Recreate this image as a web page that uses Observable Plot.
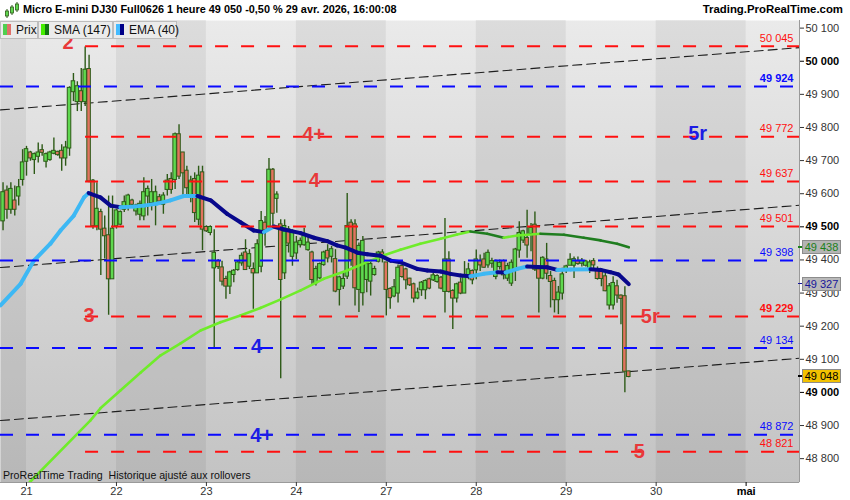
<!DOCTYPE html>
<html lang="fr">
<head>
<meta charset="utf-8">
<script src="https://cdn.jsdelivr.net/npm/d3@7"></script>
<script src="https://cdn.jsdelivr.net/npm/@observablehq/plot@0.6"></script>
<style>
  html,body{margin:0;padding:0;background:#fff;}
  #root{position:relative;width:850px;height:500px;overflow:hidden;font-family:"Liberation Sans",Arial,sans-serif;}
  #hdr{position:absolute;left:0;top:0;width:850px;height:20px;background:#fff;}
  #title{position:absolute;left:23px;top:3px;font-weight:bold;font-size:10.9px;color:#000;white-space:nowrap;}
  #site{position:absolute;right:7px;top:3px;font-weight:bold;font-size:11.4px;color:#000;white-space:nowrap;}
  #chart{position:absolute;left:0;top:20px;}
  .leg{position:absolute;top:21px;height:16px;background:#ebebeb;border:1px solid #bdbdbd;font-size:12px;color:#111;line-height:16px;white-space:nowrap;}
  .leg .ic{position:absolute;left:2px;top:2px;width:4px;height:11px;}
  .leg .ic2{position:absolute;left:6px;top:2px;width:4px;height:11px;}
  .leg .tx{position:absolute;left:15px;top:0;}
  #foot{position:absolute;left:3px;top:469px;font-size:10.6px;color:#111;white-space:pre;}
  .vbox{position:absolute;left:802px;width:37px;height:12px;border:1px solid #8c8c8c;font-size:11px;line-height:12px;text-align:center;}
  .vtick{position:absolute;left:798px;width:4px;height:1.5px;}
</style>
</head>
<body>
<svg width="0" height="0" style="position:absolute">
  <defs>
    <linearGradient id="bgGrad" x1="0" y1="0" x2="0" y2="1">
      <stop offset="0" stop-color="#eaeaea"/>
      <stop offset="1" stop-color="#c3c3c3"/>
    </linearGradient>
  </defs>
</svg>
<div id="root">
  <div id="hdr">
    <svg width="18" height="18" style="position:absolute;left:3px;top:1px">
      <line x1="4" y1="8" x2="4" y2="17" stroke="#2d5a17"/><rect x="2.5" y="10" width="3" height="5" fill="#5fd84f" stroke="#2d5a17" stroke-width="0.8"/>
      <line x1="9" y1="4" x2="9" y2="14" stroke="#2d5a17"/><rect x="7.5" y="6" width="3" height="6" fill="#5fd84f" stroke="#2d5a17" stroke-width="0.8"/>
      <line x1="14" y1="1" x2="14" y2="11" stroke="#2d5a17"/><rect x="12.5" y="3" width="3" height="6" fill="#5fd84f" stroke="#2d5a17" stroke-width="0.8"/>
    </svg>
    <div id="title">Micro E-mini DJ30 Full0626 1 heure 49 050 -0,50 % 29 avr. 2026, 16:00:08</div>
    <div id="site">Trading.ProRealTime.com</div>
  </div>
  <div id="chart"></div>
  <div class="leg" style="left:0;width:36px"><span class="ic" style="background:#4fcf4f"></span><span class="ic2" style="background:#e0706a"></span><span class="tx">Prix</span></div>
  <div class="leg" style="left:38px;width:73px"><span class="ic" style="background:#44ee00"></span><span class="ic2" style="background:#117711"></span><span class="tx">SMA (147)</span></div>
  <div class="leg" style="left:113px;width:62px"><span class="ic" style="background:#44bbff"></span><span class="ic2" style="background:#000088"></span><span class="tx">EMA (40)</span></div>
  <div id="foot">ProRealTime Trading  Historique ajusté aux rollovers</div>
</div>
<script>
// ---------- data ----------
const dayTicks  = [0, 23, 46, 69, 92, 115, 138, 161, 184];
const dayLabels = ["21", "22", "23", "24", "27", "28", "29", "30", "mai"];
const firstBar = -6; // hourly bars, index 0 = 21 avr. 00:00

const opens = [
 49518,49608,49553,49578,49593,49643,49698,49723,49703,49713,
 49730,49698,49703,49722,49725,49728,49708,49738,49908,49878,
 49908,49878,49975,49638,49503,49543,49493,49473,49343,49503,
 49508,49553,49563,49578,49548,49538,49533,49593,49573,49568,
 49588,49568,49613,49643,49643,49778,49723,49668,49593,49643,
 49523,49663,49498,49483,49376,49395,49376,49341,49321,49356,
 49371,49391,49421,49381,49371,49361,49381,49511,49501,49671,
 49586,49506,49361,49491,49411,49421,49446,49446,49431,49421,
 49331,49346,49386,49426,49411,49401,49311,49321,49351,49511,
 49506,49311,49301,49341,49336,49356,49396,49421,49391,49311,
 49291,49300,49380,49370,49342,49325,49285,49310,49310,49340,
 49340,49335,49345,49305,49400,49305,49285,49330,49300,49350,
 49365,49370,49395,49400,49385,49390,49350,49380,49395,49345,
 49330,49370,49430,49460,49465,49480,49505,49370,49345,49400,
 49350,49335,49280,49300,49369,49384,49384,49395,49390,49384,
 49374,49395,49369,49365,49349,49264,49264,49319,49291,49289,
 49062];
const highs = [
 49633,49623,49633,49623,49643,49733,49743,49728,49723,49753,
 49748,49723,49728,49768,49728,49748,49758,49923,49963,49938,
 49978,50043,50018,49643,49633,49553,49533,49593,49593,49553,
 49548,49593,49598,49583,49568,49578,49648,49623,49643,49623,
 49598,49603,49658,49663,49783,49808,49723,49683,49653,49663,
 49683,49683,49503,49503,49491,49401,49396,49351,49366,49371,
 49396,49421,49461,49431,49391,49461,49546,49531,49706,49676,
 49606,49521,49521,49501,49491,49471,49466,49496,49476,49426,
 49381,49391,49426,49446,49441,49431,49351,49361,49601,49521,
 49521,49451,49471,49391,49396,49381,49426,49431,49391,49316,
 49341,49385,49385,49375,49345,49330,49315,49335,49340,49345,
 49360,49355,49350,49525,49425,49310,49330,49345,49395,49390,
 49370,49430,49415,49420,49430,49405,49400,49400,49400,49390,
 49400,49435,49515,49490,49550,49510,49545,49380,49410,49450,
 49365,49345,49320,49375,49384,49419,49409,49409,49404,49399,
 49399,49404,49379,49374,49359,49329,49349,49339,49294,49319,
 49064];
const lows = [
 49488,49523,49538,49533,49563,49623,49653,49698,49658,49693,
 49713,49678,49698,49718,49713,49668,49683,49713,49878,49848,
 49848,49863,49633,49493,49488,49353,49403,49233,49343,49493,
 49503,49543,49548,49558,49533,49518,49518,49533,49548,49503,
 49568,49538,49593,49598,49613,49643,49593,49593,49573,49513,
 49503,49428,49483,49473,49131,49371,49321,49281,49296,49331,
 49366,49381,49371,49371,49251,49361,49361,49441,49501,49501,
 49541,49041,49341,49421,49381,49401,49436,49441,49426,49326,
 49321,49341,49381,49391,49391,49301,49261,49311,49341,49381,
 49261,49241,49261,49301,49291,49351,49391,49391,49231,49251,
 49286,49270,49345,49310,49320,49270,49280,49290,49280,49310,
 49335,49330,49310,49240,49300,49190,49270,49295,49300,49340,
 49325,49340,49365,49375,49375,49375,49340,49370,49340,49335,
 49320,49335,49405,49450,49405,49425,49365,49240,49340,49340,
 49255,49240,49235,49279,49359,49384,49344,49384,49379,49379,
 49359,49374,49339,49319,49304,49249,49249,49269,49204,48999,
 49044];
const closes = [
 49603,49553,49613,49553,49618,49693,49733,49708,49718,49723,
 49725,49718,49723,49728,49718,49708,49738,49918,49938,49923,
 49878,49973,49638,49503,49553,49493,49473,49343,49493,49548,
 49543,49573,49593,49568,49563,49568,49603,49613,49603,49603,
 49578,49593,49638,49613,49778,49653,49663,49618,49638,49543,
 49653,49493,49488,49498,49420,49380,49336,49321,49361,49366,
 49391,49411,49371,49416,49361,49446,49516,49491,49671,49541,
 49596,49341,49501,49451,49486,49451,49456,49471,49451,49341,
 49371,49386,49421,49406,49431,49306,49346,49341,49501,49401,
 49316,49441,49456,49386,49386,49371,49421,49411,49311,49286,
 49316,49375,49350,49340,49325,49285,49300,49330,49335,49315,
 49352,49350,49315,49400,49305,49285,49325,49300,49350,49370,
 49340,49400,49385,49378,49420,49395,49395,49390,49355,49380,
 49390,49430,49480,49485,49445,49495,49372,49345,49405,49360,
 49335,49280,49300,49355,49379,49399,49401,49389,49396,49394,
 49391,49385,49344,49344,49307,49319,49329,49294,49284,49064,
 49048];

// SMA (147) (bar index, price)
const smaBars = [-2, 1.0, 16.3, 18.9, 24.0, 29.2, 34.3, 39.4, 44.5, 49.6, 54.7, 59.8, 65.0, 70.1, 76.0, 82.0, 88.0, 91.4, 95.6, 100.7, 105.9, 110.1, 113.5, 117.8, 122.0, 125.5, 131.4, 137.4, 142.5, 146.8, 151.0, 154];
const smaValues = [48695, 48731, 48915, 48952, 49006, 49060, 49112, 49148, 49187, 49212, 49232, 49255, 49281, 49308, 49343, 49368, 49398, 49414, 49431, 49449, 49464, 49477, 49486, 49479, 49467, 49474, 49479, 49476, 49467, 49459, 49449, 49438];

// EMA (40) (bar index, price)
const emaBars = [-6.65, -1.5, 1.9, 6.1, 8.7, 12.1, 14.7, 15.9, 18.9, 21.5, 24.0, 27.4, 30.0, 33.4, 36.8, 40.2, 43.7, 47.1, 51.3, 54.7, 58.1, 60.7, 63.2, 65.8, 70.1, 73.5, 76.9, 79.4, 81.6, 84.6, 87.1, 90.5, 93.1, 95.6, 99.9, 102.5, 105.9, 108.4, 111.0, 113.5, 116.9, 120.4, 122.5, 125.5, 128.0, 130.6, 133.1, 135.7, 139.1, 144.2, 146.8, 149.3, 151.4, 154];
const emaValues = [49263, 49328, 49398, 49449, 49489, 49534, 49589, 49602, 49589, 49564, 49559, 49561, 49564, 49570, 49580, 49593, 49593, 49580, 49539, 49514, 49489, 49484, 49501, 49492, 49481, 49467, 49457, 49444, 49437, 49422, 49417, 49413, 49398, 49393, 49373, 49368, 49365, 49358, 49353, 49351, 49358, 49363, 49362, 49373, 49380, 49379, 49378, 49370, 49371, 49372, 49370, 49363, 49356, 49327];

// horizontal levels
const redLevels  = [50045, 49772, 49637, 49501, 49229, 48821];
const redLevelsStartBar = 15.1;
const blueLevels = [49924, 49398, 49134, 48872];
const boldLevels = [49924, 49229];

// channel lines (bar index, price)
const trendBars   = [-6.65, 197.65];
const trendUpper  = [49853, 50041];
const trendMiddle = [49377, 49565];
const trendLower  = [48915, 49103];

// wave annotations
const waveText   = ["2", "4+", "4", "3", "5r", "5", "5r", "4", "4+"];
const waveBars   = [10.6, 73.4, 73.6, 16.0, 159.5, 156.7, 171.6, 58.8, 60.1];
const wavePrices = [50055, 49779, 49640, 49232, 49229, 48822, 49782, 49137, 48870];
const waveSide   = ["r", "r", "r", "r", "r", "r", "b", "b", "b"];

const priceTicks = [48800, 48900, 49000, 49100, 49200, 49300, 49400, 49500, 49600, 49700, 49800, 49900, 50000, 50100];
const smaLast = 49438, emaLast = 49327, lastPrice = 49048;

// ---------- chart ----------
const xDomain = [-6.65, 197.65];
const yDomain = [48728, 50123];
const fmt = d3.formatLocale({decimal: ",", thousands: " ", grouping: [3], currency: ["", ""]}).format(",d");

const RED = "#ff1010", BLUE = "#0a0aff";
const bars = opens.map((o, k) => ({i: firstBar + k, o, h: highs[k], l: lows[k], c: closes[k]}));
const seg = (xs, vs) => xs.slice(1).map((x, k) => ({x1: xs[k], y1: vs[k], x2: x, y2: vs[k + 1]}));
const darkBands = [[xDomain[0], dayTicks[0]], [dayTicks[1], dayTicks[2]], [dayTicks[3], dayTicks[4]], [dayTicks[5], dayTicks[6]], [dayTicks[7], dayTicks[8]]];
const levels = [
  ...redLevels.map(v => ({v, start: redLevelsStartBar, end: xDomain[1], col: RED})),
  ...blueLevels.map(v => ({v, start: xDomain[0], end: xDomain[1], col: BLUE}))
];
const trend = [trendUpper, trendMiddle, trendLower].flatMap((vals, id) => trendBars.map((b, k) => ({id, b, p: vals[k]})));
const waves = waveText.map((t, k) => ({t, b: waveBars[k], p: wavePrices[k], col: waveSide[k] === "r" ? "#e8383a" : "#1c1ce4"}));
const isBold = d => boldLevels.includes(d.v);

const chart = Plot.plot({
  width: 850, height: 480,
  marginTop: 0, marginBottom: 18, marginLeft: 0, marginRight: 51,
  x: {domain: xDomain, axis: null},
  y: {domain: yDomain, axis: null},
  color: {type: "identity"},
  style: {fontFamily: "'Liberation Sans', Arial, sans-serif", fontSize: "11px", background: "transparent", overflow: "visible", color: "#000"},
  marks: [
    Plot.frame({fill: "url(#bgGrad)", stroke: "none"}),
    Plot.rect(darkBands, {x1: d => d[0], x2: d => d[1], fill: "#000", fillOpacity: 0.06}),
    Plot.line(trend, {x: "b", y: "p", z: "id", stroke: "#1e1e1e", strokeWidth: 1.1, strokeDasharray: "9,5"}),
    Plot.ruleX(bars, {x: "i", y1: "l", y2: "h", stroke: "#2d5a17", strokeWidth: 1.4}),
    Plot.rect(bars, {x1: d => d.i - 0.45, x2: d => d.i + 0.45, y1: "o", y2: "c", insetTop: -0.5, insetBottom: -0.5,
      fill: d => d.c >= d.o ? "#5fd84f" : "#e2735f", stroke: "#2d5a17", strokeWidth: 1}),
    Plot.link(seg(smaBars, smaValues), {x1: "x1", y1: "y1", x2: "x2", y2: "y2",
      stroke: d => d.y2 >= d.y1 ? "#6fec2a" : "#1f7d1f", strokeWidth: 2.6, strokeLinecap: "round", clip: true}),
    Plot.link(seg(emaBars, emaValues), {x1: "x1", y1: "y1", x2: "x2", y2: "y2",
      stroke: d => d.y2 >= d.y1 ? "#3db8f4" : "#08088c", strokeWidth: 4, strokeLinecap: "round", clip: true}),
    Plot.ruleY(levels, {y: "v", x1: "start", x2: "end", stroke: "col", strokeWidth: 2, strokeDasharray: "13,13"}),
    Plot.text(levels.filter(d => !isBold(d)), {x: "end", y: "v", text: d => fmt(d.v), fill: "col", textAnchor: "end", dx: -6, dy: -8, fontSize: 11}),
    Plot.text(levels.filter(isBold), {x: "end", y: "v", text: d => fmt(d.v), fill: "col", textAnchor: "end", dx: -6, dy: -8, fontSize: 11, fontWeight: "bold"}),
    Plot.text(waves, {x: "b", y: "p", text: "t", fill: "col", fontSize: 20, fontWeight: "bold"}),
    Plot.ruleX([xDomain[1]], {stroke: "#9a9a9a"}),
    Plot.ruleY([yDomain[0]], {stroke: "#9a9a9a"}),
    Plot.axisY({ticks: priceTicks.filter(t => t % 500 !== 0), anchor: "right", tickSize: 4, tickPadding: 2, tickFormat: fmt, label: null, fontSize: 11, color: "#333"}),
    Plot.axisY({ticks: priceTicks.filter(t => t % 500 === 0), anchor: "right", tickSize: 4, tickPadding: 2, tickFormat: fmt, label: null, fontSize: 11, fontWeight: "bold", color: "#000"}),
    Plot.axisX({ticks: dayTicks.slice(0, -1), anchor: "bottom", tickSize: 4, tickPadding: 1, tickFormat: t => dayLabels[dayTicks.indexOf(t)], label: null, fontSize: 11, color: "#333"}),
    Plot.axisX({ticks: dayTicks.slice(-1), anchor: "bottom", tickSize: 4, tickPadding: 1, tickFormat: t => dayLabels[dayTicks.indexOf(t)], label: null, fontSize: 11, fontWeight: "bold", color: "#000"})
  ]
});
document.getElementById("chart").appendChild(chart);

// value boxes on the price axis, positioned through the plot's y scale
const yScale = chart.scale("y");
const root = document.getElementById("root");
function valueBox(v, bg, fg) {
  const y = yScale.apply(v) + 20;
  const t = document.createElement("div");
  t.className = "vtick"; t.style.top = (y - 0.75) + "px"; t.style.background = fg;
  root.appendChild(t);
  const b = document.createElement("div");
  b.className = "vbox"; b.style.top = (y - 7) + "px"; b.style.background = bg; b.style.color = fg;
  b.textContent = fmt(v);
  root.appendChild(b);
}
valueBox(smaLast, "#b4b4b4", "#1a7f1a");
valueBox(emaLast, "#b9b9b9", "#15159a");
valueBox(lastPrice, "#f2c200", "#000");
</script>
</body>
</html>
